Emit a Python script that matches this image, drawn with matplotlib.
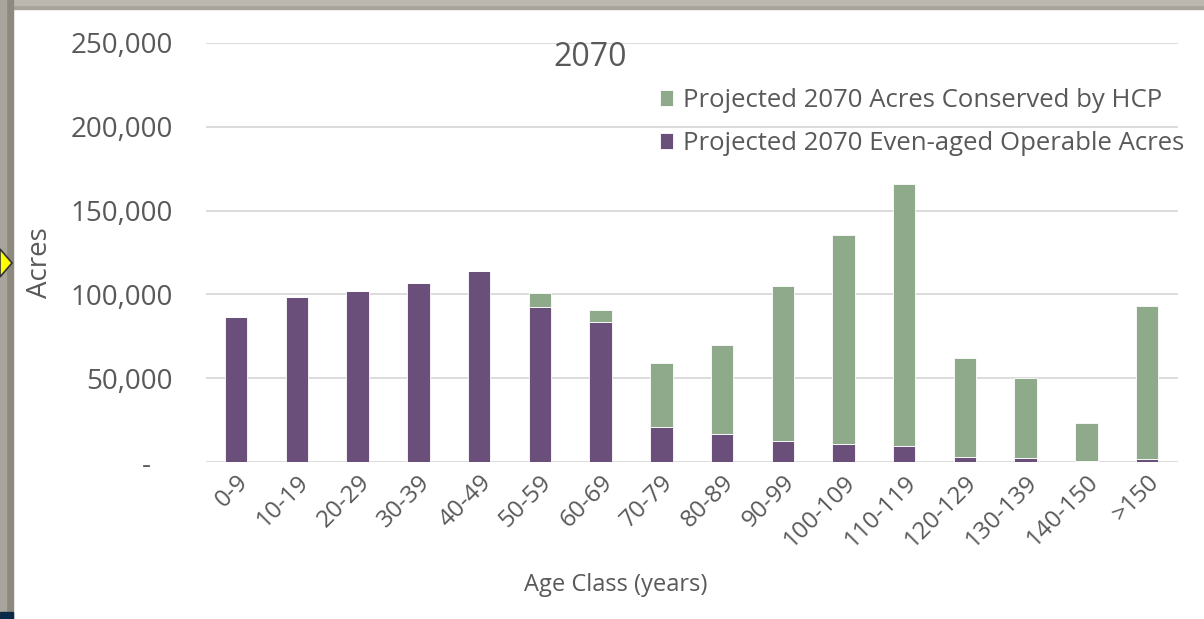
import matplotlib
matplotlib.use('Agg')
import matplotlib.pyplot as plt
from matplotlib.patches import Rectangle, Polygon
from matplotlib.ticker import FixedLocator, FuncFormatter
import numpy as np

plt.rcParams.update({
    'font.family': ['Open Sans', 'DejaVu Sans'],
    'text.color': '#595959',
    'axes.labelcolor': '#595959',
    'xtick.color': '#595959',
    'ytick.color': '#595959',
})

# Data (acres)
age_classes = ['0-9', '10-19', '20-29', '30-39', '40-49', '50-59', '60-69',
               '70-79', '80-89', '90-99', '100-109', '110-119', '120-129',
               '130-139', '140-150', '>150']
operable = [86700, 98600, 102000, 106800, 114000, 92700, 83300, 21000,
            16900, 12500, 10500, 9400, 3000, 2200, 800, 1600]
conserved = [0, 0, 0, 0, 0, 8300, 7200, 37900, 53100, 92700, 125100,
             156300, 59000, 47800, 22200, 91200]
y_ticks = [0, 50000, 100000, 150000, 200000, 250000]

PURPLE = '#6b4f7b'
GREEN = '#8fa98b'

fig = plt.figure(figsize=(12.04, 6.19), dpi=100)
ax = fig.add_axes([0.171, 0.2536, 0.807, 0.677])

x = np.arange(len(age_classes))
w = 0.37
b1 = ax.bar(x, operable, width=w, color=PURPLE, edgecolor='#ffffff',
            linewidth=0.6, zorder=3,
            label='Projected 2070 Even-aged Operable Acres')
b2 = ax.bar(x, conserved, width=w, bottom=operable, color=GREEN,
            edgecolor='#ffffff', linewidth=0.6, zorder=3,
            label='Projected 2070 Acres Conserved by HCP')

ax.set_xlim(-0.5, len(age_classes) - 0.5)
ax.set_ylim(0, 250000)
ax.yaxis.set_major_locator(FixedLocator(y_ticks))
ax.yaxis.set_major_formatter(FuncFormatter(
    lambda v, p: '-   ' if v == 0 else f'{int(v):,}'))
ax.grid(axis='y', color='#d9d9d9', linewidth=1.3, zorder=0)
for s in ax.spines.values():
    s.set_visible(False)
ax.tick_params(axis='y', length=0, labelsize=20, pad=24)
ax.tick_params(axis='x', length=0, labelsize=17.5, pad=6)
ax.set_xticks(x)
ax.set_xticklabels(age_classes, rotation=45, ha='right', rotation_mode='anchor')

# axis titles placed like the original chart
fig.text(40 / 1204, 1 - 263 / 619, 'Acres', fontsize=20, rotation=90,
         ha='center', va='center')
fig.text(616 / 1204, 1 - 585 / 619, 'Age Class (years)', fontsize=17,
         ha='center', va='center')
fig.text(590 / 1204, 1 - 58 / 619, '2070', fontsize=23, ha='center',
         va='center')

leg = ax.legend(handles=[b2, b1], loc='upper left',
                bbox_to_anchor=(0.548, 1 - 88 / 619), bbox_transform=fig.transFigure,
                frameon=False, fontsize=18.5, handlelength=0.5,
                handleheight=0.6, handletextpad=0.4, labelspacing=0.7,
                borderaxespad=0, borderpad=0)
for t in leg.get_texts():
    t.set_color('#595959')

# slide frame around the chart
fig.patches.append(Rectangle((0, 1 - 9 / 619), 1, 9 / 619,
                             transform=fig.transFigure, color='#a9a49b', zorder=10))
fig.patches.append(Rectangle((0, 1 - 5 / 619), 1, 5 / 619,
                             transform=fig.transFigure, color='#bdb8af', zorder=10))
fig.patches.append(Rectangle((0, 0), 13 / 1204, 1,
                             transform=fig.transFigure, color='#8e897f', zorder=10))
fig.patches.append(Rectangle((0, 0), 6 / 1204, 1,
                             transform=fig.transFigure, color='#aaa59c', zorder=10))
fig.patches.append(Rectangle((0, 0), 13 / 1204, 7 / 619,
                             transform=fig.transFigure, color='#0b2a4a', zorder=11))
fig.patches.append(Polygon([(0, 1 - 249 / 619), (12 / 1204, 1 - 263 / 619),
                            (0, 1 - 277 / 619)], closed=True,
                           transform=fig.transFigure, facecolor='#ffff00',
                           edgecolor='#333333', linewidth=1.2, zorder=12))

fig.savefig('out.png', dpi=100)
